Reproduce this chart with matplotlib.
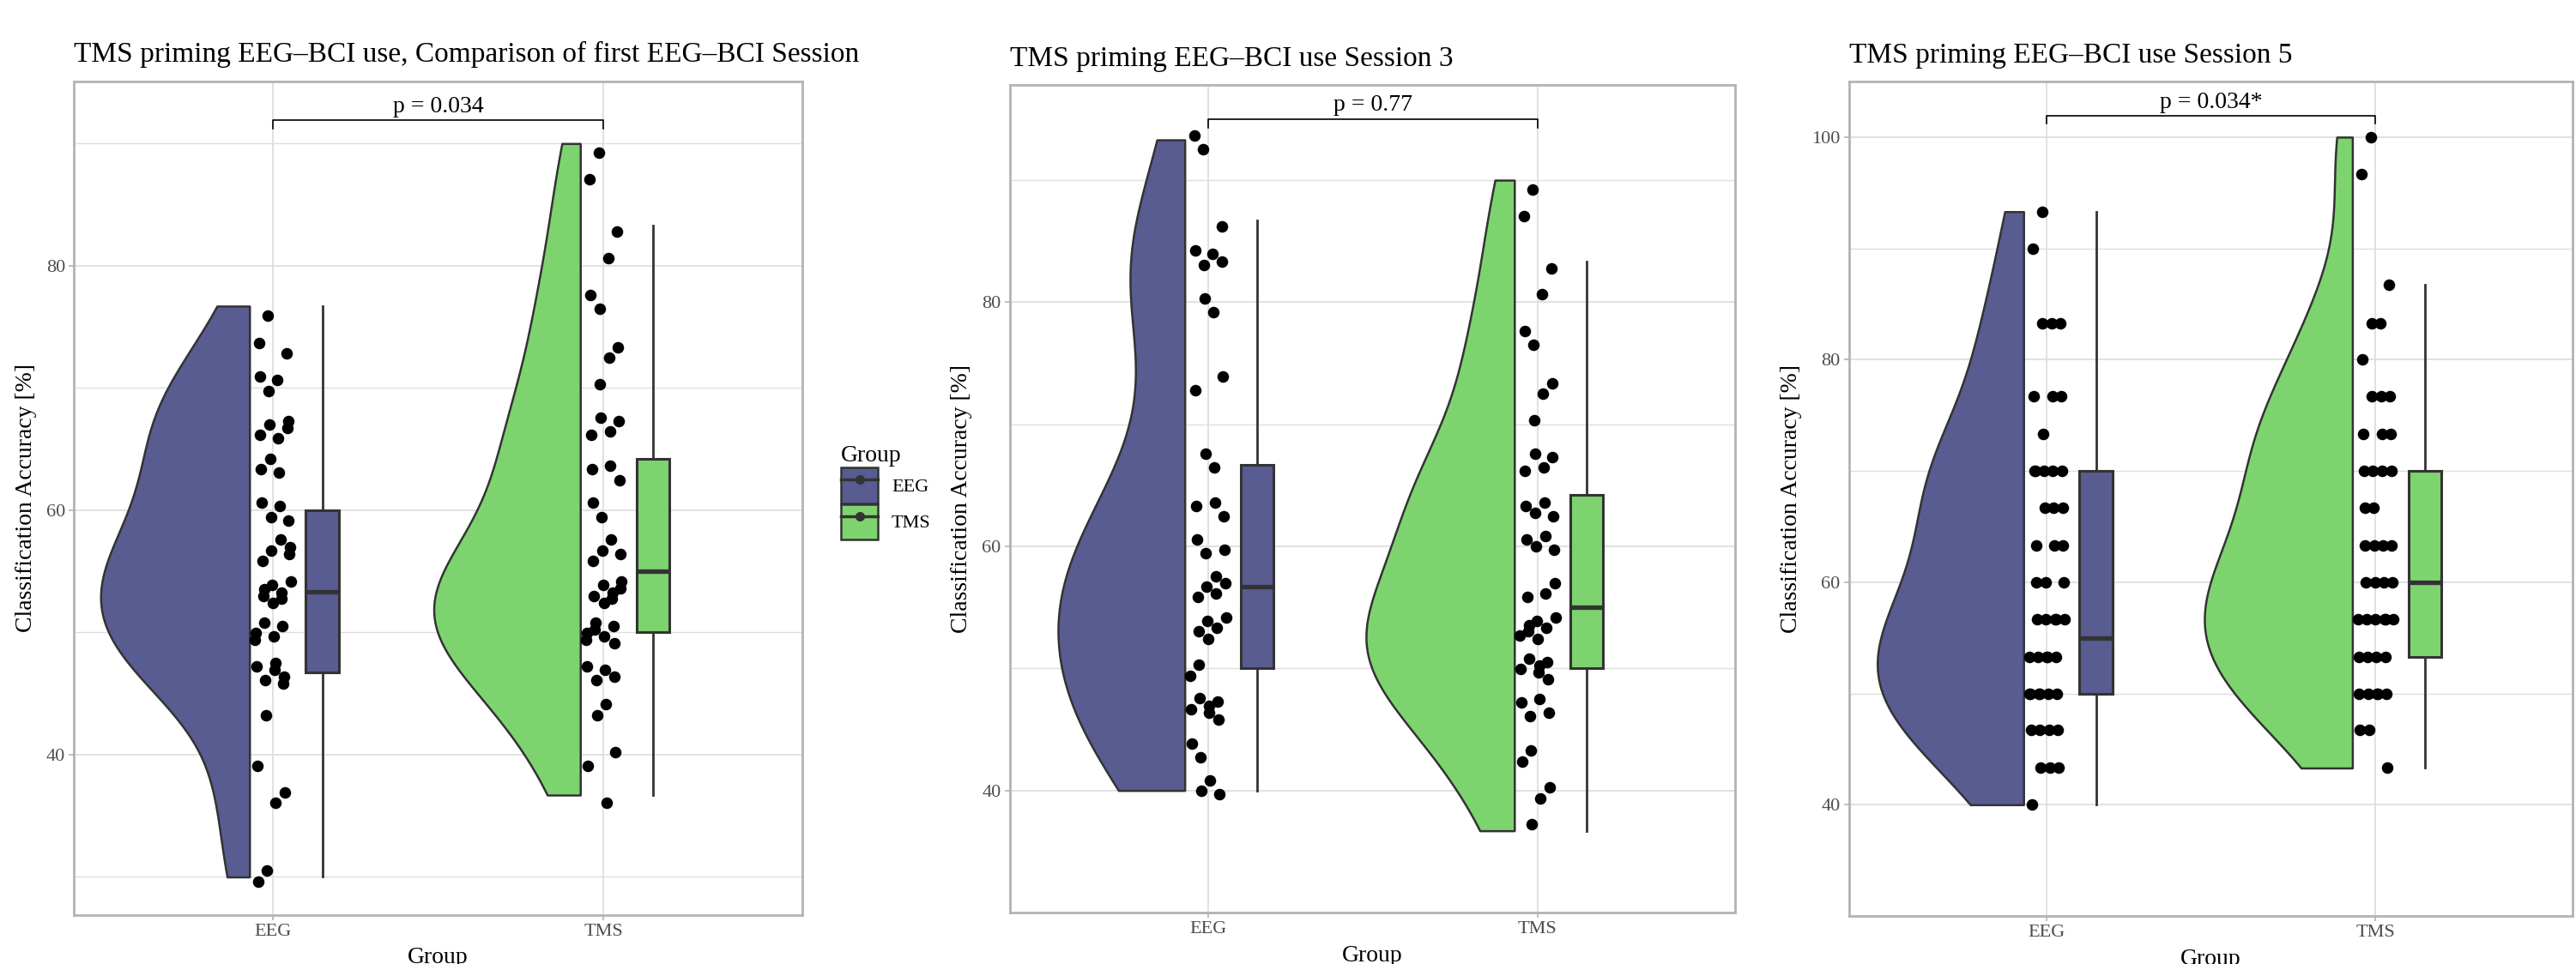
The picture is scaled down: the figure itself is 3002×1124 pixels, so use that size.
import numpy as np
import matplotlib
matplotlib.use('Agg')
import matplotlib.pyplot as plt
from matplotlib.patches import Patch
from matplotlib.lines import Line2D
from matplotlib.legend_handler import HandlerTuple

plt.rcParams['font.family'] = ['Liberation Serif', 'DejaVu Serif']

# ---- data (classification accuracy, %) ----
groups = ['EEG', 'TMS']

eeg_s1 = [76.7, 73.3, 73.3, 70, 70, 70, 66.7, 66.7, 66.7, 66.7, 66.7,
          63.3, 63.3, 63.3, 60, 60, 60, 60, 56.7, 56.7, 56.7, 56.7, 56.7,
          53.3, 53.3, 53.3, 53.3, 53.3, 53.3, 53.3, 50, 50, 50, 50, 50,
          46.7, 46.7, 46.7, 46.7, 46.7, 46.7, 43.3, 40, 36.7, 36.7, 30, 30]
tms_s1 = [90, 86.7, 83.3, 80, 76.7, 76.7, 73.3, 73.3, 70, 66.7, 66.7, 66.7, 66.7,
          63.3, 63.3, 63.3, 60, 60, 56.7, 56.7, 56.7, 56.7,
          53.3, 53.3, 53.3, 53.3, 53.3, 53.3, 53.3, 50, 50, 50, 50, 50, 50, 50,
          46.7, 46.7, 46.7, 46.7, 43.3, 43.3, 40, 40, 36.7]

eeg_s3 = [93.3, 93.3, 86.7, 83.3, 83.3, 83.3, 83.3, 80, 80, 73.3, 73.3, 66.7, 66.7,
          63.3, 63.3, 63.3, 60, 60, 60, 56.7, 56.7, 56.7, 56.7, 56.7,
          53.3, 53.3, 53.3, 53.3, 53.3, 50, 50, 46.7, 46.7, 46.7, 46.7, 46.7, 46.7,
          43.3, 43.3, 40, 40, 40]
tms_s3 = [90, 86.7, 83.3, 80, 76.7, 76.7, 73.3, 73.3, 70, 66.7, 66.7, 66.7, 66.7,
          63.3, 63.3, 63.3, 63.3, 60, 60, 60, 60, 56.7, 56.7, 56.7,
          53.3, 53.3, 53.3, 53.3, 53.3, 53.3, 53.3, 50, 50, 50, 50, 50, 50,
          46.7, 46.7, 46.7, 46.7, 43.3, 43.3, 40, 40, 36.7]

eeg_s5 = [93.3, 90, 83.3, 83.3, 83.3, 76.7, 76.7, 76.7, 73.3, 70, 70, 70, 70, 70,
          66.7, 66.7, 66.7, 63.3, 63.3, 63.3, 60, 60, 60, 56.7, 56.7, 56.7, 56.7, 56.7,
          53.3, 53.3, 53.3, 53.3, 53.3, 50, 50, 50, 50, 50, 50,
          46.7, 46.7, 46.7, 46.7, 43.3, 43.3, 43.3, 40]
tms_s5 = [100, 96.7, 86.7, 83.3, 83.3, 80, 76.7, 76.7, 76.7, 73.3, 73.3, 73.3,
          70, 70, 70, 70, 66.7, 66.7, 63.3, 63.3, 63.3, 63.3, 60, 60, 60, 60,
          56.7, 56.7, 56.7, 56.7, 56.7, 56.7, 53.3, 53.3, 53.3, 53.3,
          50, 50, 50, 50, 50, 46.7, 46.7, 43.3]

# box stats as drawn: whisker low, Q1, median, Q3, whisker high
box_s1 = [[30, 46.7, 53.3, 60, 76.7], [36.7, 50, 55, 64.2, 83.3]]
box_s3 = [[40, 50, 56.7, 66.7, 86.7], [36.7, 50, 55, 64.2, 83.3]]
box_s5 = [[40, 50, 55, 70, 93.3], [43.3, 53.3, 60, 70, 86.7]]

titles = ['TMS priming EEG\u2013BCI use, Comparison of first EEG\u2013BCI Session',
          'TMS priming EEG\u2013BCI use Session 3',
          'TMS priming EEG\u2013BCI use Session 5']
p_labels = ['p = 0.034', 'p = 0.77', 'p = 0.034*']
bracket_y = [91.9, 95.0, 101.9]
ylims = [(26.9, 95.1), (33.8, 97.8), (36.9, 105.0)]
yticks = [[40, 60, 80], [40, 60, 80], [40, 60, 80, 100]]
jitter_h = [1.0, 1.0, 0.0]

colors = ['#595C91', '#7DD46F']
edge = '#333333'


def kde(vals, grid):
    v = np.asarray(vals, float)
    n = len(v)
    q75, q25 = np.percentile(v, [75, 25])
    bw = 0.9 * min(v.std(ddof=1), (q75 - q25) / 1.34) * n ** -0.2
    z = (grid[:, None] - v[None, :]) / bw
    return np.exp(-0.5 * z ** 2).sum(1) / (n * bw * np.sqrt(2 * np.pi))


fig = plt.figure(figsize=(30.02, 11.24), dpi=100)
rects = [[0.0288, 0.051, 0.2825, 0.8648],
         [0.3921, 0.0534, 0.2815, 0.8585],
         [0.7179, 0.0498, 0.2808, 0.8657]]

panels = [(eeg_s1, tms_s1, box_s1), (eeg_s3, tms_s3, box_s3), (eeg_s5, tms_s5, box_s5)]

for k, (eeg, tms, boxes) in enumerate(panels):
    ax = fig.add_axes(rects[k])
    data = [eeg, tms]

    # half violins, area-scaled within panel
    grids, dens = [], []
    for vals in data:
        g = np.linspace(min(vals), max(vals), 512)
        grids.append(g)
        dens.append(kde(vals, g))
    dmax = max(d.max() for d in dens)
    for i in range(2):
        pos = i + 1
        w = dens[i] / dmax * 0.45
        ax.fill_betweenx(grids[i], pos - 0.07 - w, pos - 0.07,
                         facecolor=colors[i], edgecolor=edge, lw=1.8, zorder=2)

    # jittered points (deterministic low-discrepancy jitter)
    for i, vals in enumerate(data):
        idx = np.arange(len(vals))
        jx = 0.055 * (2 * ((idx * 0.7548776662 + 0.37) % 1) - 1)
        jy = jitter_h[k] * (2 * ((idx * 0.5698402910 + 0.11) % 1) - 1)
        ax.scatter(i + 1 + jx, np.array(vals) + jy, s=95, color='black',
                   linewidths=0, zorder=3)

    # boxes
    for i, (lo, q1, med, q3, hi) in enumerate(boxes):
        st = [{'whislo': lo, 'q1': q1, 'med': med, 'q3': q3, 'whishi': hi, 'fliers': []}]
        ax.bxp(st, positions=[i + 1.15], widths=0.1, patch_artist=True,
               showcaps=False, showfliers=False, manage_ticks=False,
               boxprops=dict(facecolor=colors[i], edgecolor=edge, lw=2.2),
               medianprops=dict(color=edge, lw=3.8, solid_capstyle='butt'),
               whiskerprops=dict(color=edge, lw=2.0), zorder=4)

    # significance bracket
    yb = bracket_y[k]
    ax.plot([1, 1, 2, 2], [yb - 0.7, yb, yb, yb - 0.7], color='black', lw=1.2, zorder=5)
    ax.text(1.5, yb + 0.25, p_labels[k], ha='center', va='bottom', fontsize=20)

    ax.set_xlim(0.4, 2.6)
    ax.set_ylim(*ylims[k])
    ax.set_xticks([1, 2])
    ax.set_xticklabels(groups)
    ax.set_yticks(yticks[k])
    ax.set_yticks([30, 50, 70, 90], minor=True)
    ax.grid(True, which='major', color='#DEDEDE', lw=1.3, zorder=0)
    ax.grid(True, which='minor', axis='y', color='#DEDEDE', lw=1.0, zorder=0)
    ax.set_axisbelow(True)
    ax.tick_params(axis='both', which='major', labelsize=16, labelcolor='#4D4D4D',
                   color='#B3B3B3', length=4, width=1.2)
    ax.tick_params(axis='y', which='minor', length=0)
    for sp in ax.spines.values():
        sp.set_color('#B3B3B3')
        sp.set_linewidth(2.0)
    ax.set_xlabel('Group', fontsize=20, labelpad=6)
    ax.set_ylabel('Classification Accuracy [%]', fontsize=20, labelpad=8)
    ax.set_title(titles[k], loc='left', fontsize=24, pad=16)

# legend: box glyph with median line and dot, like the ggplot key
handles = [(Patch(facecolor=c, edgecolor=edge, lw=1.8),
            Line2D([], [], color=edge, lw=2.5, marker='o', markersize=7))
           for c in colors]
leg = fig.legend(handles, groups, title='Group', loc='upper left',
                 bbox_to_anchor=(0.3228, 0.548), frameon=False, fontsize=16,
                 title_fontsize=20, handlelength=1.95, handleheight=2.5,
                 handletextpad=0.7, labelspacing=0.05, borderpad=0,
                 handler_map={tuple: HandlerTuple(ndivide=1, pad=0)})
leg._legend_box.align = 'left'

fig.savefig('out.png', dpi=100)
